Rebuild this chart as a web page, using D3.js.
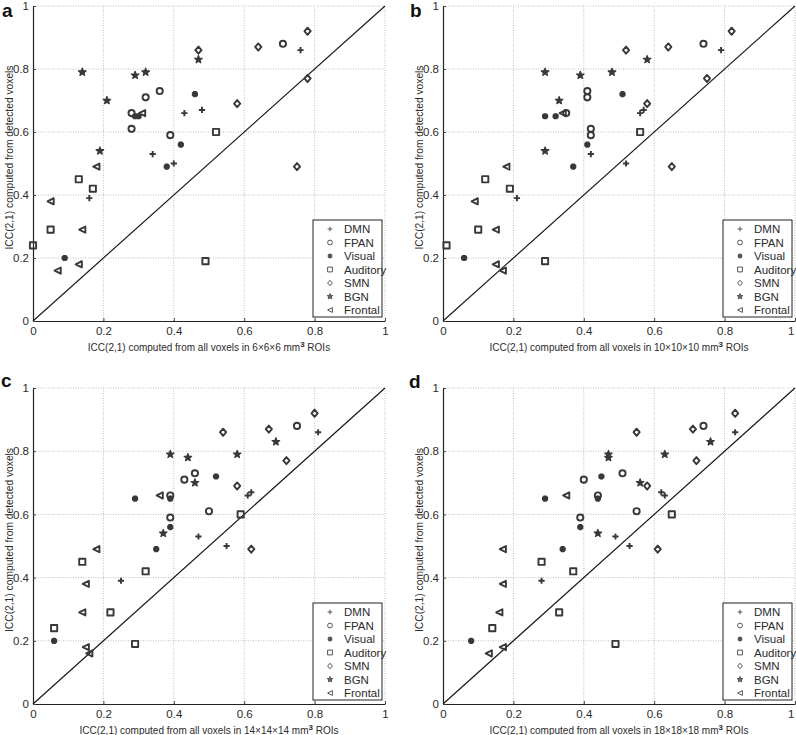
<!DOCTYPE html>
<html>
<head>
<meta charset="utf-8">
<script src="https://cdn.jsdelivr.net/npm/d3@7"></script>
<style>
  html, body { margin: 0; padding: 0; background: #fff; }
  svg { display: block; font-family: "Liberation Sans", Arial, Helvetica, sans-serif; }
</style>
</head>
<body>
<svg id="chart" width="796" height="735"></svg>
<script>
// ---------- data ----------
const categories = ["DMN", "FPAN", "Visual", "Auditory", "SMN", "BGN", "Frontal"];
const tickValues = [0, 0.2, 0.4, 0.6, 0.8, 1];
const tickLabels = ["0", "0.2", "0.4", "0.6", "0.8", "1"];
const panelLetters = ["a", "b", "c", "d"];
const roiSizes = ["6×6×6", "10×10×10", "14×14×14", "18×18×18"];

// [category, x (all voxels), y (detected voxels)]
const panelA = [
  ["DMN",0.76,0.86],["DMN",0.43,0.66],["DMN",0.48,0.67],["DMN",0.34,0.53],["DMN",0.40,0.50],["DMN",0.16,0.39],
  ["FPAN",0.71,0.88],["FPAN",0.36,0.73],["FPAN",0.32,0.71],["FPAN",0.28,0.66],["FPAN",0.28,0.61],["FPAN",0.39,0.59],
  ["Visual",0.38,0.49],["Visual",0.42,0.56],["Visual",0.46,0.72],["Visual",0.09,0.20],["Visual",0.29,0.65],["Visual",0.30,0.65],
  ["Auditory",0.52,0.60],["Auditory",0.13,0.45],["Auditory",0.17,0.42],["Auditory",0.05,0.29],["Auditory",0.00,0.24],["Auditory",0.49,0.19],
  ["SMN",0.78,0.92],["SMN",0.47,0.86],["SMN",0.64,0.87],["SMN",0.58,0.69],["SMN",0.78,0.77],["SMN",0.75,0.49],
  ["BGN",0.14,0.79],["BGN",0.29,0.78],["BGN",0.32,0.79],["BGN",0.47,0.83],["BGN",0.21,0.70],["BGN",0.19,0.54],
  ["Frontal",0.18,0.49],["Frontal",0.05,0.38],["Frontal",0.14,0.29],["Frontal",0.13,0.18],["Frontal",0.07,0.16],["Frontal",0.31,0.66]
];
const panelB = [
  ["DMN",0.79,0.86],["DMN",0.56,0.66],["DMN",0.57,0.67],["DMN",0.42,0.53],["DMN",0.52,0.50],["DMN",0.21,0.39],
  ["FPAN",0.74,0.88],["FPAN",0.41,0.73],["FPAN",0.41,0.71],["FPAN",0.35,0.66],["FPAN",0.42,0.61],["FPAN",0.42,0.59],
  ["Visual",0.37,0.49],["Visual",0.41,0.56],["Visual",0.51,0.72],["Visual",0.06,0.20],["Visual",0.29,0.65],["Visual",0.32,0.65],
  ["Auditory",0.56,0.60],["Auditory",0.12,0.45],["Auditory",0.19,0.42],["Auditory",0.10,0.29],["Auditory",0.01,0.24],["Auditory",0.29,0.19],
  ["SMN",0.82,0.92],["SMN",0.52,0.86],["SMN",0.64,0.87],["SMN",0.58,0.69],["SMN",0.75,0.77],["SMN",0.65,0.49],
  ["BGN",0.29,0.79],["BGN",0.39,0.78],["BGN",0.48,0.79],["BGN",0.58,0.83],["BGN",0.33,0.70],["BGN",0.29,0.54],
  ["Frontal",0.18,0.49],["Frontal",0.09,0.38],["Frontal",0.15,0.29],["Frontal",0.15,0.18],["Frontal",0.17,0.16],["Frontal",0.34,0.66]
];
const panelC = [
  ["DMN",0.81,0.86],["DMN",0.61,0.66],["DMN",0.62,0.67],["DMN",0.47,0.53],["DMN",0.55,0.50],["DMN",0.25,0.39],
  ["FPAN",0.75,0.88],["FPAN",0.46,0.73],["FPAN",0.43,0.71],["FPAN",0.39,0.66],["FPAN",0.39,0.59],["FPAN",0.50,0.61],
  ["Visual",0.29,0.65],["Visual",0.39,0.65],["Visual",0.35,0.49],["Visual",0.39,0.56],["Visual",0.52,0.72],["Visual",0.06,0.20],
  ["Auditory",0.59,0.60],["Auditory",0.14,0.45],["Auditory",0.32,0.42],["Auditory",0.22,0.29],["Auditory",0.06,0.24],["Auditory",0.29,0.19],
  ["SMN",0.80,0.92],["SMN",0.54,0.86],["SMN",0.67,0.87],["SMN",0.58,0.69],["SMN",0.72,0.77],["SMN",0.62,0.49],
  ["BGN",0.39,0.79],["BGN",0.44,0.78],["BGN",0.58,0.79],["BGN",0.69,0.83],["BGN",0.46,0.70],["BGN",0.37,0.54],
  ["Frontal",0.18,0.49],["Frontal",0.15,0.38],["Frontal",0.14,0.29],["Frontal",0.15,0.18],["Frontal",0.16,0.16],["Frontal",0.36,0.66]
];
const panelD = [
  ["DMN",0.83,0.86],["DMN",0.62,0.67],["DMN",0.63,0.66],["DMN",0.49,0.53],["DMN",0.53,0.50],["DMN",0.28,0.39],
  ["FPAN",0.74,0.88],["FPAN",0.51,0.73],["FPAN",0.40,0.71],["FPAN",0.44,0.66],["FPAN",0.39,0.59],["FPAN",0.55,0.61],
  ["Visual",0.29,0.65],["Visual",0.44,0.65],["Visual",0.34,0.49],["Visual",0.39,0.56],["Visual",0.45,0.72],["Visual",0.08,0.20],
  ["Auditory",0.65,0.60],["Auditory",0.28,0.45],["Auditory",0.37,0.42],["Auditory",0.33,0.29],["Auditory",0.14,0.24],["Auditory",0.49,0.19],
  ["SMN",0.83,0.92],["SMN",0.55,0.86],["SMN",0.71,0.87],["SMN",0.58,0.69],["SMN",0.72,0.77],["SMN",0.61,0.49],
  ["BGN",0.47,0.79],["BGN",0.47,0.78],["BGN",0.63,0.79],["BGN",0.76,0.83],["BGN",0.56,0.70],["BGN",0.44,0.54],
  ["Frontal",0.17,0.49],["Frontal",0.17,0.38],["Frontal",0.16,0.29],["Frontal",0.17,0.18],["Frontal",0.13,0.16],["Frontal",0.35,0.66]
];
const panelData = [panelA, panelB, panelC, panelD];

// ---------- layout ----------
const panels = [
  { left: 33,  top: 6,   w: 352, h: 315 },
  { left: 443, top: 6,   w: 352, h: 315 },
  { left: 33,  top: 388, w: 352, h: 316 },
  { left: 443, top: 388, w: 352, h: 316 }
];
const letterPos = [[2, 17], [410, 17], [1, 387], [409, 388]];

// ---------- marker shapes ----------
function starPath(r) {
  const pts = [];
  for (let k = 0; k < 10; k++) {
    const rad = k % 2 === 0 ? r : r * 0.42;
    const a = -Math.PI / 2 + k * Math.PI / 5;
    pts.push([rad * Math.cos(a), rad * Math.sin(a)]);
  }
  return "M" + pts.map(p => p[0].toFixed(2) + "," + p[1].toFixed(2)).join("L") + "Z";
}
function markerPath(cat, r) {
  switch (cat) {
    case "DMN": return `M${-r},0H${r}M0,${-r}V${r}`;
    case "FPAN": return `M${r},0A${r},${r},0,1,1,${-r},0A${r},${r},0,1,1,${r},0Z`;
    case "Visual": {
      const d = r * 0.72;
      return `M${-r},0H${r}M0,${-r}V${r}M${-d},${-d}L${d},${d}M${-d},${d}L${d},${-d}`;
    }
    case "Auditory": return `M${-r},${-r}H${r}V${r}H${-r}Z`;
    case "SMN": return `M0,${-r * 1.15}L${r},0L0,${r * 1.15}L${-r},0Z`;
    case "BGN": return starPath(r);
    case "Frontal": return `M${-r},0L${r},${-r}L${r},${r}Z`;
  }
}

const svg = d3.select("#chart");
const ink = "#2b2b2b";
const markColor = "#383838";

panels.forEach((p, i) => {
  const x = d3.scaleLinear().domain([0, 1]).range([p.left, p.left + p.w]);
  const y = d3.scaleLinear().domain([0, 1]).range([p.top + p.h, p.top]);
  const g = svg.append("g");

  // grid (dotted), including top/right borders
  tickValues.filter(v => v > 0).forEach(v => {
    g.append("line").attr("x1", x(v)).attr("x2", x(v)).attr("y1", y(0)).attr("y2", y(1))
      .attr("stroke", "#bdbdbd").attr("stroke-width", 1).attr("stroke-dasharray", "1,1.5");
    g.append("line").attr("x1", x(0)).attr("x2", x(1)).attr("y1", y(v)).attr("y2", y(v))
      .attr("stroke", "#bdbdbd").attr("stroke-width", 1).attr("stroke-dasharray", "1,1.5");
  });

  // axes
  const xAxis = d3.axisBottom(x).tickValues(tickValues).tickFormat((d, k) => tickLabels[k])
    .tickSizeInner(-3).tickSizeOuter(0).tickPadding(6);
  const yAxis = d3.axisLeft(y).tickValues(tickValues).tickFormat((d, k) => tickLabels[k])
    .tickSizeInner(-3).tickSizeOuter(0).tickPadding(4);
  const gx = g.append("g").attr("transform", `translate(0,${y(0)})`).call(xAxis);
  const gy = g.append("g").attr("transform", `translate(${x(0)},0)`).call(yAxis);
  [gx, gy].forEach(a => {
    a.select(".domain").attr("stroke", "#222").attr("stroke-width", 1.2);
    a.selectAll(".tick line").attr("stroke", "#444");
    a.selectAll(".tick text").attr("fill", ink).style("font-size", "11.5px")
      .style("font-family", "'Liberation Sans', Arial, sans-serif");
  });
  // keep the last x tick label inside the page for the right-hand panels
  if (x(1) > 790) {
    gx.selectAll(".tick text").filter(d => d === 1).attr("text-anchor", "end").attr("dx", -1);
  }

  // diagonal identity line
  g.append("line").attr("x1", x(0)).attr("y1", y(0)).attr("x2", x(1)).attr("y2", y(1))
    .attr("stroke", "#1a1a1a").attr("stroke-width", 1.2);

  // points
  g.append("g").selectAll("path").data(panelData[i]).join("path")
    .attr("transform", d => `translate(${x(d[1])},${y(d[2])})`)
    .attr("d", d => markerPath(d[0], d[0] === "BGN" ? 4 : 3.1))
    .attr("fill", d => (d[0] === "BGN" || d[0] === "Visual") ? markColor : "none")
    .attr("stroke", markColor)
    .attr("stroke-linejoin", "round")
    .attr("stroke-width", d => d[0] === "Visual" ? 2.4 : (d[0] === "BGN" ? 1.2 : 1.9));

  // axis labels
  const xl = g.append("text").attr("x", (x(0) + x(1)) / 2).attr("y", y(0) + 30)
    .attr("text-anchor", "middle").attr("fill", ink).style("font-size", "10px");
  xl.append("tspan").text(`ICC(2,1) computed from all voxels in ${roiSizes[i]} mm`);
  xl.append("tspan").attr("dy", -4).style("font-size", "8px").style("font-weight", "bold").text("3");
  xl.append("tspan").attr("dy", 4).text(" ROIs");

  g.append("text")
    .attr("transform", `translate(${x(0) - 20},${(y(0) + y(1)) / 2 - 6}) rotate(-90)`)
    .attr("text-anchor", "middle").attr("fill", ink).style("font-size", "10.5px")
    .attr("textLength", 184).attr("lengthAdjust", "spacingAndGlyphs")
    .text("ICC(2,1) computed from detected voxels");

  // panel letter
  svg.append("text").attr("x", letterPos[i][0]).attr("y", letterPos[i][1])
    .attr("fill", "#111").style("font-size", "19px").style("font-weight", "bold")
    .text(panelLetters[i]);

  // legend
  const lw = 69, lh = 97;
  const lx = x(1) - 3 - lw, ly = y(0) - 4 - lh;
  const lg = g.append("g").attr("transform", `translate(${lx},${ly})`);
  lg.append("rect").attr("width", lw).attr("height", lh).attr("fill", "#fff")
    .attr("stroke", "#222").attr("stroke-width", 1);
  categories.forEach((c, k) => {
    const cy = 9 + k * 13.5;
    lg.append("path").attr("transform", `translate(17,${cy})`)
      .attr("d", markerPath(c, c === "BGN" ? 3 : 2.4))
      .attr("fill", (c === "BGN" || c === "Visual") ? "#666" : "none")
      .attr("stroke", "#555").attr("stroke-width", c === "Visual" ? 1.4 : 1);
    lg.append("text").attr("x", 31).attr("y", cy + 4).attr("fill", ink)
      .style("font-size", "11.5px").text(c);
  });
});
</script>
</body>
</html>
